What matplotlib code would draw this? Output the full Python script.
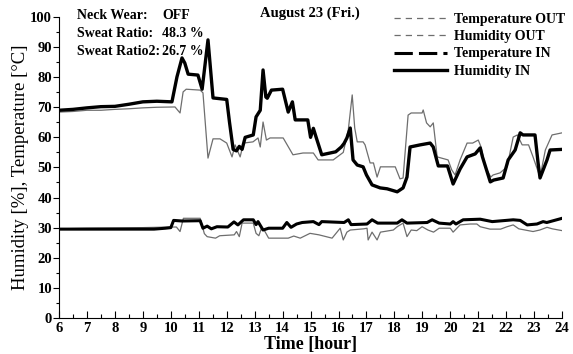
import matplotlib
matplotlib.use("Agg")
import matplotlib.pyplot as plt
from matplotlib.lines import Line2D
from matplotlib.ticker import MultipleLocator

plt.rcParams["font.family"] = ["Liberation Serif", "DejaVu Serif"]

#################################################
# Data (hour, value)
hum_in_t = [6.0, 6.5, 7.0, 7.5, 8.0, 8.5, 9.0, 9.5, 10.04, 10.22, 10.4, 10.5,
            10.62, 10.97, 11.12, 11.33, 11.51, 12.0, 12.1, 12.23, 12.35, 12.45,
            12.55, 12.66, 12.95, 13.05, 13.2, 13.3, 13.4, 13.45, 13.6, 14.0,
            14.2, 14.35, 14.45, 14.9, 15.0, 15.1, 15.2, 15.4, 15.9, 16.1, 16.2,
            16.3, 16.42, 16.52, 16.67, 16.88, 17.0, 17.2, 17.49, 17.74, 18.1,
            18.31, 18.45, 18.56, 18.92, 19.28, 19.39, 19.57, 19.9, 20.1, 20.35,
            20.6, 20.89, 21.07, 21.15, 21.43, 21.55, 21.89, 22.07, 22.32, 22.5,
            22.6, 23.03, 23.14, 23.21, 23.46, 23.57, 24.0]
hum_in = [69.0, 69.3, 69.8, 70.2, 70.3, 71.0, 71.8, 72.0, 71.8, 80.1, 86.4, 84.7,
          81.0, 80.7, 76.0, 92.4, 73.1, 72.6, 65.0, 56.0, 55.5, 57.0,
          56.0, 60.0, 60.8, 66.8, 69.0, 82.4, 73.4, 73.0, 75.7, 76.0,
          68.4, 71.8, 65.8, 65.8, 60.0, 63.0, 60.0, 54.2, 55.2, 56.8, 58.0,
          59.8, 63.1, 52.5, 50.8, 50.2, 47.5, 44.2, 43.2, 42.9, 41.9,
          43.2, 46.8, 56.8, 57.5, 58.1, 56.8, 50.5, 50.5, 44.5, 49.5,
          53.5, 54.5, 56.5, 53.5, 45.2, 45.8, 46.5, 52.5, 55.8, 61.5,
          60.8, 60.8, 51.5, 46.5, 52.5, 55.8, 56.0]

hum_out_t = [6.0, 6.5, 7.0, 7.5, 8.0, 8.5, 9.0, 9.5, 10.15, 10.33, 10.44, 10.55,
             11.05, 11.15, 11.33, 11.51, 11.76, 12.0, 12.19, 12.3, 12.48, 12.6,
             12.94, 13.12, 13.2, 13.3, 13.42, 13.55, 14.02, 14.37, 14.73, 15.1,
             15.27, 15.81, 16.17, 16.35, 16.49, 16.58, 16.67, 16.88, 16.95,
             17.13, 17.25, 17.38, 17.5, 18.03, 18.2, 18.31, 18.49, 18.6, 18.99,
             19.03, 19.15, 19.28, 19.39, 19.53, 19.92, 20.05, 20.17, 20.35,
             20.6, 20.8, 21.0, 21.1, 21.25, 21.45, 21.53, 21.78, 22.03, 22.25,
             22.4, 22.57, 22.8, 22.96, 23.21, 23.4, 23.64, 24.0]
hum_out = [68.4, 68.6, 69.0, 69.0, 69.3, 69.5, 69.8, 70.0, 70.1, 68.1, 75.1, 76.0,
           75.7, 74.8, 53.1, 59.5, 59.5, 58.1, 53.5, 57.5, 53.5, 58.1,
           58.5, 59.8, 56.8, 65.1, 59.1, 59.8, 59.8, 54.2, 54.8, 54.8,
           52.5, 52.5, 55.0, 62.5, 74.1, 63.1, 58.5, 58.5, 57.5,
           51.5, 51.5, 46.8, 50.2, 50.2, 46.2, 46.5, 67.4, 68.1, 68.1,
           69.1, 64.8, 63.5, 64.8, 53.5, 52.5, 49.2, 47.5, 52.5,
           58.1, 58.1, 59.1, 56.8, 50.2, 46.8, 47.5, 48.2, 50.2, 60.1,
           60.8, 57.5, 57.5, 53.5, 46.8, 55.8, 60.8, 61.5]

temp_in_t = [6.0, 9.4, 9.8, 10.0, 10.1, 10.4, 11.05, 11.15, 11.3, 11.45, 11.65,
             12.04, 12.26, 12.4, 12.6, 12.95, 13.05, 13.12, 13.3, 13.5, 14.0,
             14.15, 14.3, 14.5, 14.7, 15.1, 15.3, 15.4, 16.2, 16.35, 16.45,
             17.02, 17.2, 17.4, 18.1, 18.27, 18.45, 19.17, 19.35, 19.6, 20.0,
             20.1, 20.2, 20.46, 21.07, 21.5, 22.25, 22.5, 22.75, 23.1, 23.32,
             23.45, 24.0]
temp_in = [29.5, 29.5, 29.8, 30.0, 32.4, 32.2, 32.3, 29.8, 30.5, 29.6, 30.3,
           30.2, 31.9, 30.9, 32.6, 32.6, 31.0, 32.0, 29.2, 29.8, 29.8,
           31.7, 30.1, 31.2, 31.7, 32.0, 31.0, 32.0, 31.7, 32.6, 31.0,
           31.2, 32.6, 31.5, 31.5, 32.6, 31.5, 31.7, 32.6, 31.5, 31.2,
           32.0, 31.2, 32.6, 32.8, 32.0, 32.6, 32.4, 30.9, 31.2, 32.0,
           31.7, 33.1]

temp_out_t = [6.0, 7.0, 8.0, 9.0, 10.0, 10.2, 10.33, 10.45, 11.05, 11.2, 11.3,
              11.6, 11.75, 12.27, 12.35, 12.45, 12.55, 12.95, 13.05, 13.15,
              13.25, 13.35, 13.5, 14.0, 14.2, 14.4, 14.63, 14.98, 15.3, 15.77,
              16.06, 16.17, 16.3, 16.42, 16.9, 17.02, 17.06, 17.2, 17.38, 17.5,
              17.96, 18.1, 18.31, 18.45, 18.6, 18.8, 18.99, 19.2, 19.4, 19.6,
              20.0, 20.1, 20.35, 20.71, 20.95, 21.07, 21.42, 21.8, 22.03, 22.25,
              22.45, 22.96, 23.2, 23.46, 23.65, 24.0]
temp_out = [29.6, 29.8, 29.9, 30.0, 30.2, 30.2, 28.7, 33.1, 33.1, 28.0, 27.0,
            26.5, 27.3, 27.6, 28.7, 27.0, 31.5, 31.5, 28.1, 27.3,
            30.0, 29.0, 26.5, 26.5, 26.5, 27.2, 26.5, 28.1, 27.6, 26.5,
            29.8, 25.9, 28.5, 29.2, 29.6, 29.8, 25.9, 28.5, 25.9, 28.5,
            29.2, 30.3, 31.5, 27.0, 29.2, 29.0, 30.3, 29.2, 28.5, 29.8,
            29.8, 28.5, 30.9, 31.2, 31.2, 30.3, 29.5, 29.5, 30.3, 30.9,
            29.6, 28.7, 29.2, 30.1, 29.6, 29.0]

series_names = ["Temperature OUT", "Humidity OUT", "Temperature IN", "Humidity IN"]

#################################################
fig = plt.figure(figsize=(5.73, 3.54), dpi=100)
ax = fig.add_axes([0.103, 0.102, 0.878, 0.850])

gray = "#6e6e6e"
ax.plot(temp_out_t, temp_out, color=gray, lw=0.9)
ax.plot(hum_out_t, hum_out, color=gray, lw=0.9)
ax.plot(temp_in_t, temp_in, color="black", lw=2.2)
ax.plot(hum_in_t, hum_in, color="black", lw=2.4)

ax.set_xlim(6, 24)
ax.set_ylim(0, 100)
ax.spines["top"].set_visible(False)
ax.spines["right"].set_visible(False)
ax.xaxis.set_major_locator(MultipleLocator(1))
ax.xaxis.set_minor_locator(MultipleLocator(0.5))
ax.yaxis.set_major_locator(MultipleLocator(10))
ax.yaxis.set_minor_locator(MultipleLocator(5))
ax.tick_params(axis="x", which="major", direction="in", length=5, width=0.8, pad=3)
ax.tick_params(axis="x", which="minor", direction="in", length=3, width=0.8)
ax.tick_params(axis="y", which="major", direction="out", length=4, width=0.8, pad=1)
ax.tick_params(axis="y", which="minor", direction="out", length=2, width=0.8)
for lab in ax.get_xticklabels() + ax.get_yticklabels():
    lab.set_fontsize(10.5)
    lab.set_fontweight("bold")

ax.set_xlabel("Time [hour]", fontsize=13, fontweight="bold", labelpad=1)
ax.set_ylabel("Humidity [%], Temperature [\u00b0C]", fontsize=13.5,
              fontweight="medium", labelpad=1)

fig.text(0.541, 0.962, "August 23 (Fri.)", fontsize=10.5, fontweight="bold",
         ha="center", va="center")

info = [("Neck Wear:", "OFF"), ("Sweat Ratio:", "48.3 %"), ("Sweat Ratio2:", "26.7 %")]
for i, (k, v) in enumerate(info):
    y = 0.957 - i * 0.051
    fig.text(0.134, y, k, fontsize=10, fontweight="bold", va="center")
    fig.text(0.283, y, v, fontsize=10, fontweight="bold", va="center")

handles = [
    Line2D([], [], color=gray, lw=0.9, ls=(0, (5, 4))),
    Line2D([], [], color=gray, lw=0.9, ls=(0, (5, 4))),
    Line2D([], [], color="black", lw=2.2, ls=(0, (6, 2))),
    Line2D([], [], color="black", lw=2.4, ls="-"),
]
leg = fig.legend(handles, series_names, loc="upper left",
                 bbox_to_anchor=(0.666, 1.0), frameon=False,
                 prop={"size": 10, "weight": "bold"},
                 handlelength=3.8, handletextpad=0.5, labelspacing=0.32)

fig.savefig("out.png", dpi=100)
